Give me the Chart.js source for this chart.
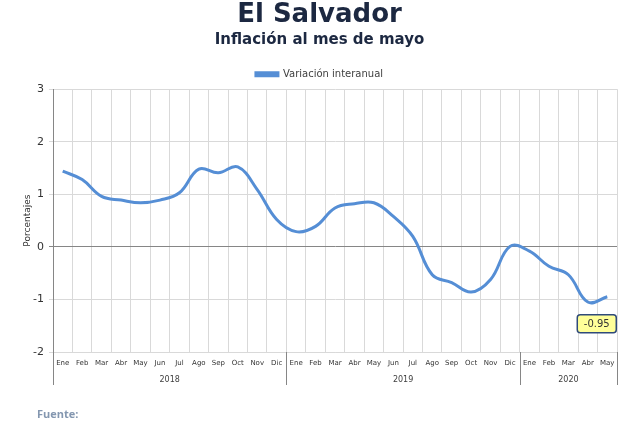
<!DOCTYPE html>
<html>
<head>
<meta charset="utf-8">
<script src="https://cdn.jsdelivr.net/npm/chart.js@4.4.1/dist/chart.umd.min.js"></script>
<style>
  html, body { margin:0; padding:0; background:#fff; }
  #wrap { width:640px; height:424px; position:relative; }
</style>
</head>
<body>
<div id="wrap"><canvas id="c" width="640" height="424"></canvas></div>
<script>
'use strict';
// ── Data ──────────────────────────────────────────────────
const MONTHS = ['Ene','Feb','Mar','Abr','May','Jun','Jul','Ago','Sep','Oct','Nov','Dic',
                'Ene','Feb','Mar','Abr','May','Jun','Jul','Ago','Sep','Oct','Nov','Dic',
                'Ene','Feb','Mar','Abr','May'];
const YEARS = ['2018','2019','2020'];
const YEAR_SPANS = [12, 12, 5];
const INFLACION = [1.44, 1.28, 0.96, 0.89, 0.84, 0.89, 1.03, 1.48, 1.41, 1.52, 1.09, 0.52,
                   0.29, 0.39, 0.74, 0.82, 0.84, 0.58, 0.20, -0.53, -0.68, -0.86, -0.62, 0.01,
                   -0.08, -0.37, -0.53, -1.05, -0.95];
const Y_TICKS = [-2, -1, 0, 1, 2, 3];

const BLUE = '#558ed5';
const GRID = '#d9d9d9';
const AXIS = '#868686';
const TXT  = '#404040';

// ── Plugins ───────────────────────────────────────────────
const yearGroups = {
  id: 'yearGroups',
  afterDraw(chart) {
    const { ctx, chartArea, scales: { x } } = chart;
    const half = (x.getPixelForValue(1) - x.getPixelForValue(0)) / 2;
    const top = chartArea.bottom, bot = chartArea.bottom + 33;
    ctx.save();
    ctx.strokeStyle = AXIS; ctx.lineWidth = 1;
    let start = 0;
    const edges = [0];
    YEAR_SPANS.forEach(n => { start += n; edges.push(start); });
    edges.forEach(i => {
      const px = Math.round(x.getPixelForValue(i) - half) + 0.5;
      ctx.beginPath(); ctx.moveTo(px, top); ctx.lineTo(px, bot); ctx.stroke();
    });
    ctx.fillStyle = TXT;
    ctx.font = '8px "DejaVu Sans"';
    ctx.textAlign = 'center'; ctx.textBaseline = 'middle';
    YEARS.forEach((y, k) => {
      const a = x.getPixelForValue(edges[k]) - half;
      const b = x.getPixelForValue(edges[k + 1]) - half;
      ctx.fillText(y, (a + b) / 2, top + 28);
    });
    ctx.restore();
  }
};

const lastLabel = {
  id: 'lastLabel',
  afterDatasetsDraw(chart) {
    const { ctx } = chart;
    const pts = chart.getDatasetMeta(0).data;
    const p = pts[pts.length - 1];
    const txt = INFLACION[INFLACION.length - 1].toFixed(2);
    const w = 39, h = 18, bx = p.x - 30, by = p.y + 18;
    ctx.save();
    ctx.beginPath();
    ctx.roundRect(bx, by, w, h, 3);
    ctx.fillStyle = '#ffff99'; ctx.fill();
    ctx.strokeStyle = '#2f4a7a'; ctx.lineWidth = 1.5; ctx.stroke();
    ctx.fillStyle = '#333';
    ctx.font = '10px "DejaVu Sans"';
    ctx.textAlign = 'center'; ctx.textBaseline = 'middle';
    ctx.fillText(txt, bx + w / 2, by + h / 2 + 0.5);
    ctx.restore();
  }
};

const fuente = {
  id: 'fuente',
  afterDraw(chart) {
    const { ctx } = chart;
    ctx.save();
    ctx.fillStyle = '#8497b0';
    ctx.font = 'bold 11px "Open Sans"';
    ctx.textBaseline = 'middle';
    ctx.fillText('Fuente:', 37, 415);
    ctx.restore();
  }
};

// ── Chart ─────────────────────────────────────────────────
new Chart(document.getElementById('c').getContext('2d'), {
  type: 'line',
  data: {
    labels: MONTHS,
    datasets: [{
      label: 'Variación interanual',
      data: INFLACION,
      borderColor: BLUE, backgroundColor: BLUE,
      borderWidth: 3, pointRadius: 0, tension: 0.4, fill: false
    }]
  },
  options: {
    responsive: false, animation: false,
    layout: { padding: { left: 22, right: 23, top: 0, bottom: 39 } },
    plugins: {
      title: {
        display: true, text: 'El Salvador', color: '#1c2841',
        font: { family: 'DejaVu Sans', size: 26, weight: 'bold' },
        padding: { top: 0, bottom: 0 }
      },
      subtitle: {
        display: true, text: 'Inflación al mes de mayo', color: '#1c2841',
        font: { family: 'DejaVu Sans', size: 15, weight: 'bold' },
        padding: { top: 0, bottom: 12 }
      },
      legend: {
        display: true,
        labels: {
          color: TXT, boxWidth: 22, boxHeight: 3, padding: 8,
          font: { family: 'DejaVu Sans', size: 10 }
        }
      },
      tooltip: { enabled: false }
    },
    scales: {
      x: {
        offset: true,
        grid: { offset: true, color: GRID, tickLength: 0, drawTicks: false },
        border: { display: true, color: GRID },
        ticks: { color: '#333', padding: 7, maxRotation: 0, autoSkip: false,
                 font: { family: 'DejaVu Sans', size: 7 } },
        afterFit(s) { s.height = 33; }
      },
      y: {
        min: -2, max: 3,
        afterBuildTicks(s) { s.ticks = Y_TICKS.map(v => ({ value: v })); },
        grid: {
          color: c => c.tick && c.tick.value === 0 ? AXIS : GRID,
          tickLength: 4
        },
        border: { display: true, color: AXIS },
        ticks: { color: '#333', padding: 5, font: { family: 'DejaVu Sans', size: 11 } },
        title: { display: true, text: 'Porcentajes', color: '#333', padding: 0,
                 font: { family: 'DejaVu Sans', size: 9 } },
        afterFit(s) { s.width = 31; }
      }
    }
  },
  plugins: [yearGroups, lastLabel, fuente]
});
</script>
</body>
</html>
